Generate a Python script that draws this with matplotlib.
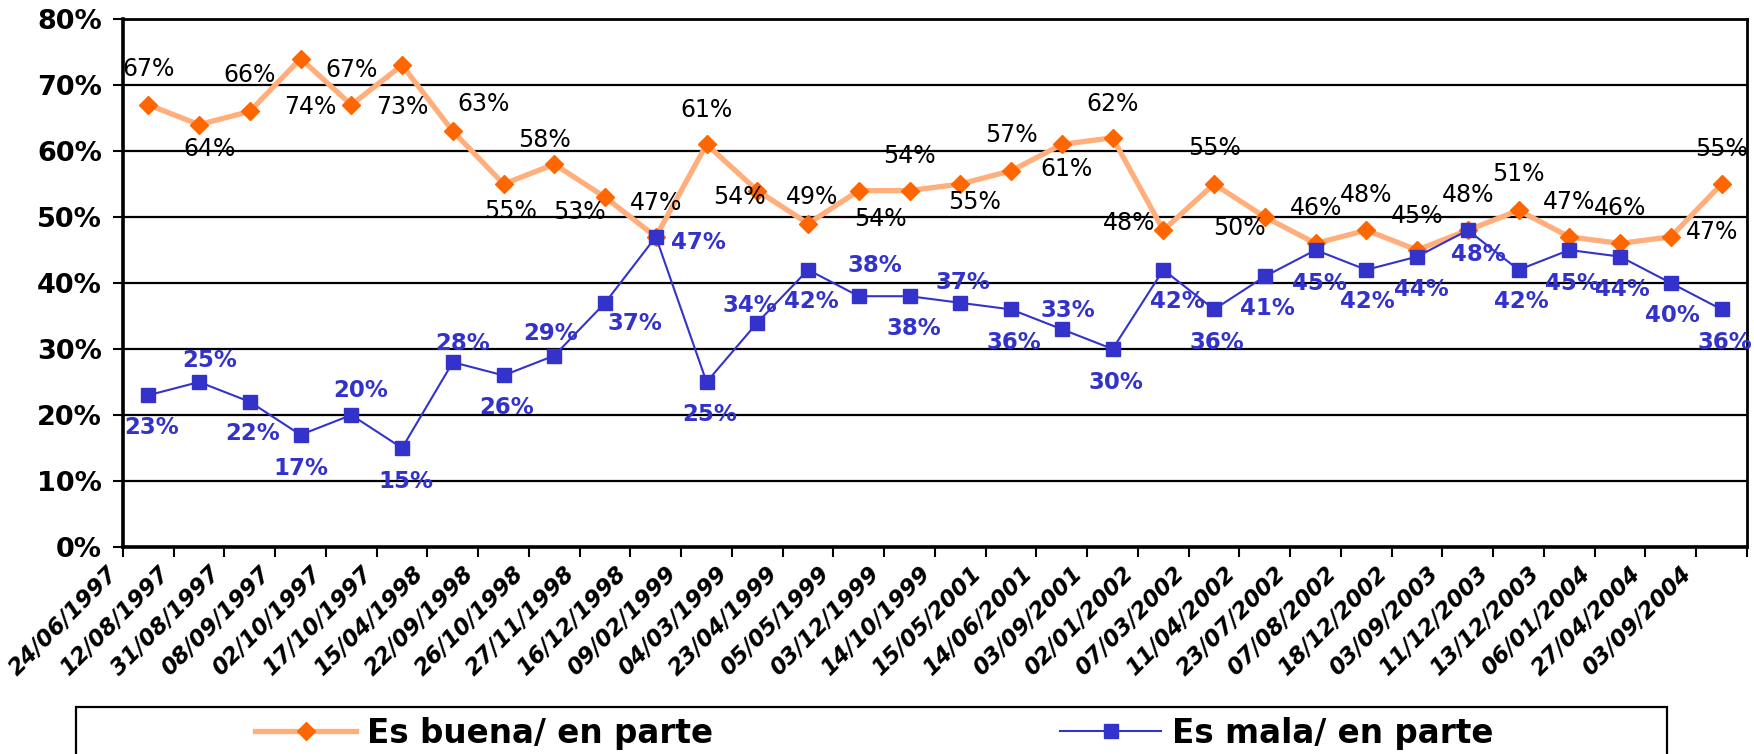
import numpy as np
import matplotlib
matplotlib.use("Agg")
import matplotlib.pyplot as plt
from matplotlib.lines import Line2D
from matplotlib.patches import Rectangle
from matplotlib.transforms import ScaledTranslation

# ---------------- data ----------------
dates = ["24/06/1997", "12/08/1997", "31/08/1997", "08/09/1997", "02/10/1997",
         "17/10/1997", "15/04/1998", "22/09/1998", "26/10/1998", "27/11/1998",
         "16/12/1998", "09/02/1999", "04/03/1999", "23/04/1999", "05/05/1999",
         "03/12/1999", "14/10/1999", "15/05/2001", "14/06/2001", "03/09/2001",
         "02/01/2002", "07/03/2002", "11/04/2002", "23/07/2002", "07/08/2002",
         "18/12/2002", "03/09/2003", "11/12/2003", "13/12/2003", "06/01/2004",
         "27/04/2004", "03/09/2004"]
buena = [67, 64, 66, 74, 67, 73, 63, 55, 58, 53, 47, 61, 54, 49, 54, 54,
         55, 57, 61, 62, 48, 55, 50, 46, 48, 45, 48, 51, 47, 46, 47, 55]
mala = [23, 25, 22, 17, 20, 15, 28, 26, 29, 37, 47, 25, 34, 42, 38, 38,
        37, 36, 33, 30, 42, 36, 41, 45, 42, 44, 48, 42, 45, 44, 40, 36]
series_names = ["Es buena/ en parte", "Es mala/ en parte"]
y_ticks = [0, 10, 20, 30, 40, 50, 60, 70, 80]

# label offsets (pixels) -- layout only
buena_off = [(0, 36), (10, -24), (0, 36), (10, -48), (0, 35), (0, -42), (31, 27),
             (7, -27), (-10, 24), (-26, -15), (0, 34), (0, 34), (-18, -6), (4, 27),
             (22, -28), (0, 35), (14, -18), (0, 36), (5, -25), (0, 34), (-34, 7),
             (0, 36), (-25, -11), (0, 35), (0, 35), (0, 34), (0, 35), (0, 36),
             (0, 35), (0, 35), (41, 5), (0, 35)]
mala_off = [(3, -32), (11, 22), (3, -32), (0, -34), (9, 25), (4, -33), (10, 19),
            (3, -32), (-4, 22), (30, -21), (43, -6), (3, -32), (-7, 17), (3, -32),
            (16, 31), (4, -32), (3, 20), (3, -33), (6, 19), (3, -33), (14, -32),
            (3, -33), (3, -32), (4, -33), (1, -32), (4, -33), (11, -24), (3, -32),
            (3, -33), (2, -33), (2, -32), (3, -33)]

ORANGE_LINE = "#FFAE7C"
ORANGE_MK = "#FF6600"
BLUE = "#3333CC"

plt.rcParams["font.family"] = ["DejaVu Sans"]

fig = plt.figure(figsize=(17.54, 7.54), dpi=100)
ax = fig.add_axes([0.0701, 0.2745, 0.9259, 0.7003])

n = len(dates)
x = np.arange(n) + 0.5

ax.plot(x, buena, color=ORANGE_LINE, lw=3.8, marker="D", ms=9,
        mfc=ORANGE_MK, mec=ORANGE_MK, zorder=3, solid_joinstyle="miter")
ax.plot(x, mala, color=BLUE, lw=1.5, marker="s", ms=10,
        mfc=BLUE, mec=BLUE, zorder=4)

for xi, v, (dx, dy) in zip(x, buena, buena_off):
    ax.annotate(f"{v}%", (xi, v), xytext=(dx, dy), textcoords="offset pixels",
                ha="center", va="center", fontsize=17, color="black",
                annotation_clip=False, zorder=5)
for xi, v, (dx, dy) in zip(x, mala, mala_off):
    ax.annotate(f"{v}%", (xi, v), xytext=(dx, dy), textcoords="offset pixels",
                ha="center", va="center", fontsize=16.5, color=BLUE,
                fontweight="bold", annotation_clip=False, zorder=5)

ax.set_xlim(0, n)
ax.set_ylim(0, 80)
ax.set_yticks(y_ticks)
ax.set_yticklabels([f"{t}%" for t in y_ticks], fontsize=19.5, fontweight="bold")
for t in y_ticks[1:-1]:
    ax.axhline(t, color="black", lw=1.6, zorder=1)

ax.set_xticks(np.arange(n + 1))
ax.set_xticklabels(dates + [""], rotation=45, ha="right", va="top",
                   fontsize=16.5, fontweight="bold", fontstyle="italic")
shift = ScaledTranslation(-0.08, 0, fig.dpi_scale_trans)
for lbl in ax.get_xticklabels():
    lbl.set_transform(lbl.get_transform() + shift)

ax.tick_params(axis="x", direction="out", length=7, width=1.5, pad=4)
ax.tick_params(axis="y", direction="out", length=7, width=1.5, pad=8)

for side, lw in [("left", 2.6), ("bottom", 2.6), ("top", 2.0), ("right", 2.0)]:
    ax.spines[side].set_linewidth(lw)
    ax.spines[side].set_color("black")

# legend frame
fig.patches.append(Rectangle((76 / 1754, -0.05), (1667 - 76) / 1754, 0.05 + 1 - 707 / 754,
                             transform=fig.transFigure, fill=False,
                             edgecolor="black", lw=1.6))

h1 = Line2D([], [], color=ORANGE_LINE, lw=3.8, marker="D", ms=9,
            mfc=ORANGE_MK, mec=ORANGE_MK)
h2 = Line2D([], [], color=BLUE, lw=1.5, marker="s", ms=10, mfc=BLUE, mec=BLUE)
for h, name, xpos in [(h1, series_names[0], 255), (h2, series_names[1], 1060)]:
    fig.legend(handles=[h], labels=[name], loc="center left",
               bbox_to_anchor=(xpos / 1754, 1 - 733 / 754), frameon=False,
               borderpad=0, borderaxespad=0, handlelength=3.1,
               handletextpad=0.33, prop={"size": 23.5, "weight": "bold"})

fig.savefig("out.png", dpi=100)
